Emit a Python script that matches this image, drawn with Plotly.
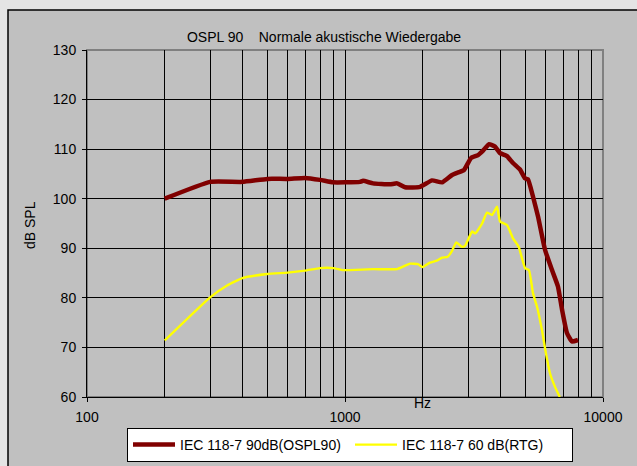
import plotly.graph_objects as go

# ---- data ----
red_f = [200, 300, 400, 500, 600, 700, 800, 900, 1000, 1143, 1175, 1285, 1493, 1592, 1709, 1954,
         2174, 2377, 2600, 2742, 2893, 3078, 3279, 3428, 3616, 3814, 3990, 4245, 4478, 4767,
         4988, 5120, 5356, 5600, 5960, 6345, 6690, 6940, 7250, 7580, 8000]
red_db = [100.0, 103.4, 103.4, 104.0, 104.0, 104.2, 103.8, 103.3, 103.3, 103.4, 103.6, 103.1, 102.9, 103.1, 102.3, 102.4,
          103.7, 103.3, 104.8, 105.3, 105.8, 108.2, 108.8, 109.7, 111.0, 110.5, 109.2, 108.6, 107.2, 105.9,
          104.1, 103.9, 100.4, 96.4, 89.7, 85.6, 82.3, 77.6, 72.9, 71.2, 71.5]

yel_f = [200, 300, 349, 400, 500, 600, 700, 800, 900, 980, 1044, 1285, 1592, 1786, 1918, 2000,
         2134, 2270, 2377, 2500, 2600, 2700, 2840, 2920, 3110, 3200, 3400, 3548, 3715, 3884,
         3990, 4245, 4478, 4712, 4988, 5165, 5356, 5550, 5800, 6010, 6230, 6510, 6800]
yel_db = [71.4, 80.1, 82.5, 84.0, 84.8, 85.1, 85.5, 86.0, 86.0, 85.6, 85.6, 85.8, 85.8, 86.9, 86.8, 86.2,
          87.1, 87.5, 88.1, 88.3, 89.5, 91.2, 90.3, 90.5, 93.4, 93.0, 95.0, 97.2, 96.7, 98.4,
          95.4, 94.7, 92.0, 90.3, 86.0, 85.6, 80.9, 78.2, 73.5, 68.8, 64.8, 62.1, 60.0]

name_red = "IEC 118-7 90dB(OSPL90)"
name_yel = "IEC 118-7 60 dB(RTG)"
title_text = "OSPL 90\u00a0\u00a0\u00a0\u00a0Normale akustische Wiedergabe"
x_ticks = [100, 1000, 10000]
y_ticks = [60, 70, 80, 90, 100, 110, 120, 130]

FONT = "Liberation Sans, Arial, sans-serif"

fig = go.Figure()
fig.add_trace(go.Scatter(x=red_f, y=red_db, mode="lines", name=name_red,
                         line=dict(color="#800000", width=4.5, shape="spline", smoothing=0.4)))
fig.add_trace(go.Scatter(x=yel_f, y=yel_db, mode="lines", name=name_yel,
                         line=dict(color="#ffff00", width=2.4, shape="spline", smoothing=0.4)))

fig.update_layout(
    width=637, height=466,
    margin=dict(l=87, r=34, t=50, b=69, autoexpand=False),
    paper_bgcolor="#e4e4e4",
    plot_bgcolor="#969696",
    font=dict(family=FONT, size=14, color="black"),
    title=dict(text=title_text, x=(324 - 87) / 516, xref="paper", xanchor="center",
               y=1 - 37 / 466, yref="container", yanchor="middle",
               font=dict(family=FONT, size=14, color="black")),
    showlegend=True,
    legend=dict(orientation="h", x=(350 - 87) / 516, xanchor="center", y=(397 - 445) / 347, yanchor="middle",
                bgcolor="white", bordercolor="black", borderwidth=1, itemwidth=42, entrywidth=165,
                font=dict(family=FONT, size=14, color="black"), traceorder="normal"),
    xaxis=dict(type="log", range=[2, 4], tickvals=x_ticks, ticktext=[str(v) for v in x_ticks],
               showgrid=True, gridcolor="black", gridwidth=1,
               minor=dict(dtick="D1", showgrid=True, gridcolor="black", gridwidth=1, ticks=""),
               ticks="outside", ticklen=4, tickcolor="black", ticklabelstandoff=3,
               showline=True, linecolor="black", linewidth=1, zeroline=False,
               tickfont=dict(size=14)),
    yaxis=dict(range=[60, 130], tickvals=y_ticks, showgrid=True, gridcolor="black", gridwidth=1,
               ticks="outside", ticklen=4, tickcolor="black", ticklabelstandoff=3,
               showline=True, linecolor="black", linewidth=1, zeroline=False,
               tickfont=dict(size=14)),
    shapes=[
        dict(type="rect", xref="paper", yref="paper", x0=(8 - 87) / 516, x1=(645 - 87) / 516,
             y0=(397 - 480) / 347, y1=1 + (50 - 10) / 347,
             fillcolor="#c0c0c0", line=dict(color="black", width=1.5), layer="below"),
        dict(type="rect", xref="paper", yref="paper", x0=0, x1=1, y0=0, y1=1,
             fillcolor="rgba(0,0,0,0)", line=dict(color="#808080", width=2), layer="below"),
    ],
    annotations=[
        dict(text="Hz", xref="paper", yref="paper", x=(422 - 87) / 516, y=(397 - 403) / 347,
             showarrow=False, xanchor="center", yanchor="middle", font=dict(size=14)),
        dict(text="dB SPL", xref="paper", yref="paper", x=(30 - 87) / 516, y=(397 - 225) / 347,
             showarrow=False, textangle=-90, xanchor="center", yanchor="middle", font=dict(size=14)),
    ],
)

fig.write_html("out.html", config={"displayModeBar": False},
               post_script="document.body.style.margin='0';document.body.style.overflow='hidden';")
